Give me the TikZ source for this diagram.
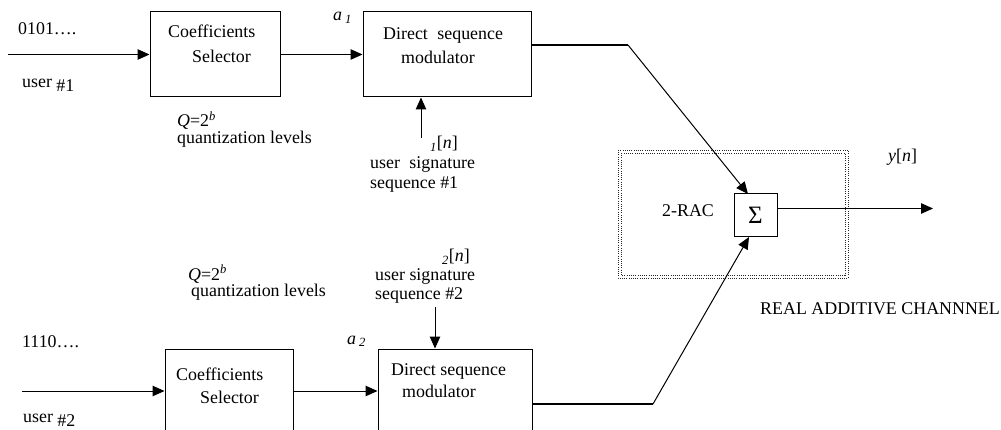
\documentclass[tikz,border=0pt]{standalone}
\usepackage{fontspec}
\setmainfont{Liberation Serif}
\usetikzlibrary{arrows.meta,calc}
\begin{document}
\begin{tikzpicture}[x=1pt,y=-1pt,
  every node/.style={font=\fontsize{17.9}{21.5}\selectfont, inner sep=0pt},
  txt/.style={anchor=base west},
  blk/.style={draw, line width=1pt, minimum width=#1, inner sep=0pt},
  arr/.style={line width=1pt, -{Triangle[length=12pt,width=10.5pt]}},
  thickline/.style={line width=2.2pt},
  dotbox/.style={line width=0.9pt, dash pattern=on 0.9pt off 1.3pt, black!85}]
\useasboundingbox (0,0) rectangle (1001,430);
\clip (0,0) rectangle (1001,430);
% blocks
\node[blk=130pt, minimum height=85pt] (cs1) at (215,54.5) {};
\node[blk=168pt, minimum height=85pt] (dsm1) at (447,54.5) {};
\node[blk=128pt, minimum height=95pt] (cs2) at (229,396.5) {};
\node[blk=154pt, minimum height=95pt] (dsm2) at (455,396.5) {};
\node[blk=43pt, minimum height=43pt, font=\fontsize{25}{28}\selectfont] (sum) at (755.5,215.5) {Σ};
% dotted channel box
\draw[dotbox] (618,150) rectangle (848,278);
\draw[dotbox] (621,153) rectangle (845,275);
% coordinates
\coordinate (in1) at (8,54.5);
\coordinate (in2) at (22,391);
\coordinate (sig1) at (421,138);
\coordinate (sig2) at (435,307);
\coordinate (o1) at (628,45);
\coordinate (o2) at (653,404);
\coordinate (t1) at (748,194);
\coordinate (t2) at (749,237);
\coordinate (out) at (933,208.5);
% connectors
\draw[arr] (in1) -- (cs1.west);
\draw[arr] (cs1.east) -- (dsm1.west);
\draw[arr] (sig1) -- (sig1 |- dsm1.south);
\draw[thickline] (dsm1.east |- o1) -- (o1);
\draw[arr] (o1) -- (t1);
\draw[arr] (in2) -- (in2 -| cs2.west);
\draw[arr] (in2 -| cs2.east) -- (in2 -| dsm2.west);
\draw[arr] (sig2) -- (sig2 |- dsm2.north);
\draw[thickline] (dsm2.east |- o2) -- (o2);
\draw[arr] (o2) -- (t2);
\draw[arr] (sum.east |- out) -- (out);
% texts top
\node[txt] (b1) at (18,35) {0101….};
\node[txt] (u1) at (22,88) {user \raisebox{-4pt}{\#1}};
\node[txt] (c1a) at (168,38) {Coefficients};
\node[txt] (c1b) at (192,63) {Selector};
\node[txt] (q1) at (177,127) {\textit{Q}=2\textsuperscript{\textit{b}}};
\node[txt] (q1b) at (177,144) {quantization levels};
\node[txt] (a1) at (333,21) {\textit{a}\,\textsubscript{\textit{1}}};
\node[txt] (d1a) at (383,40) {Direct\hspace{5pt} sequence};
\node[txt] (d1b) at (401,64) {modulator};
\node[txt] (s1) at (430,149) {\textsubscript{\textit{1}}[\textit{n}]};
\node[txt] (s1a) at (370,169) {user\hspace{5pt} signature};
\node[txt] (s1b) at (370,189) {sequence \#1};
% texts bottom
\node[txt] (q2) at (188,280) {\textit{Q}=2\textsuperscript{\textit{b}}};
\node[txt] (q2b) at (191,297) {quantization levels};
\node[txt] (b2) at (22,347) {1110….};
\node[txt] (u2) at (23,422) {user \raisebox{-4pt}{\#2}};
\node[txt] (c2a) at (176,380) {Coefficients};
\node[txt] (c2b) at (200,403) {Selector};
\node[txt] (s2) at (442,262) {\textsubscript{\textit{2}}[\textit{n}]};
\node[txt] (s2a) at (375,280) {user signature};
\node[txt] (s2b) at (375,299) {sequence \#2};
\node[txt] (a2) at (347,344) {\textit{a}\,\textsubscript{\textit{2}}};
\node[txt] (d2a) at (391,375) {Direct sequence};
\node[txt] (d2b) at (402,397) {modulator};
% right side
\node[txt] (yn) at (888,162) {\textit{y}[\textit{n}]};
\node[txt] (rac) at (662,217) {2-RAC};
\node[txt] (rac2) at (760,315) {REAL ADDITIVE CHANNNEL};
\end{tikzpicture}
\end{document}
